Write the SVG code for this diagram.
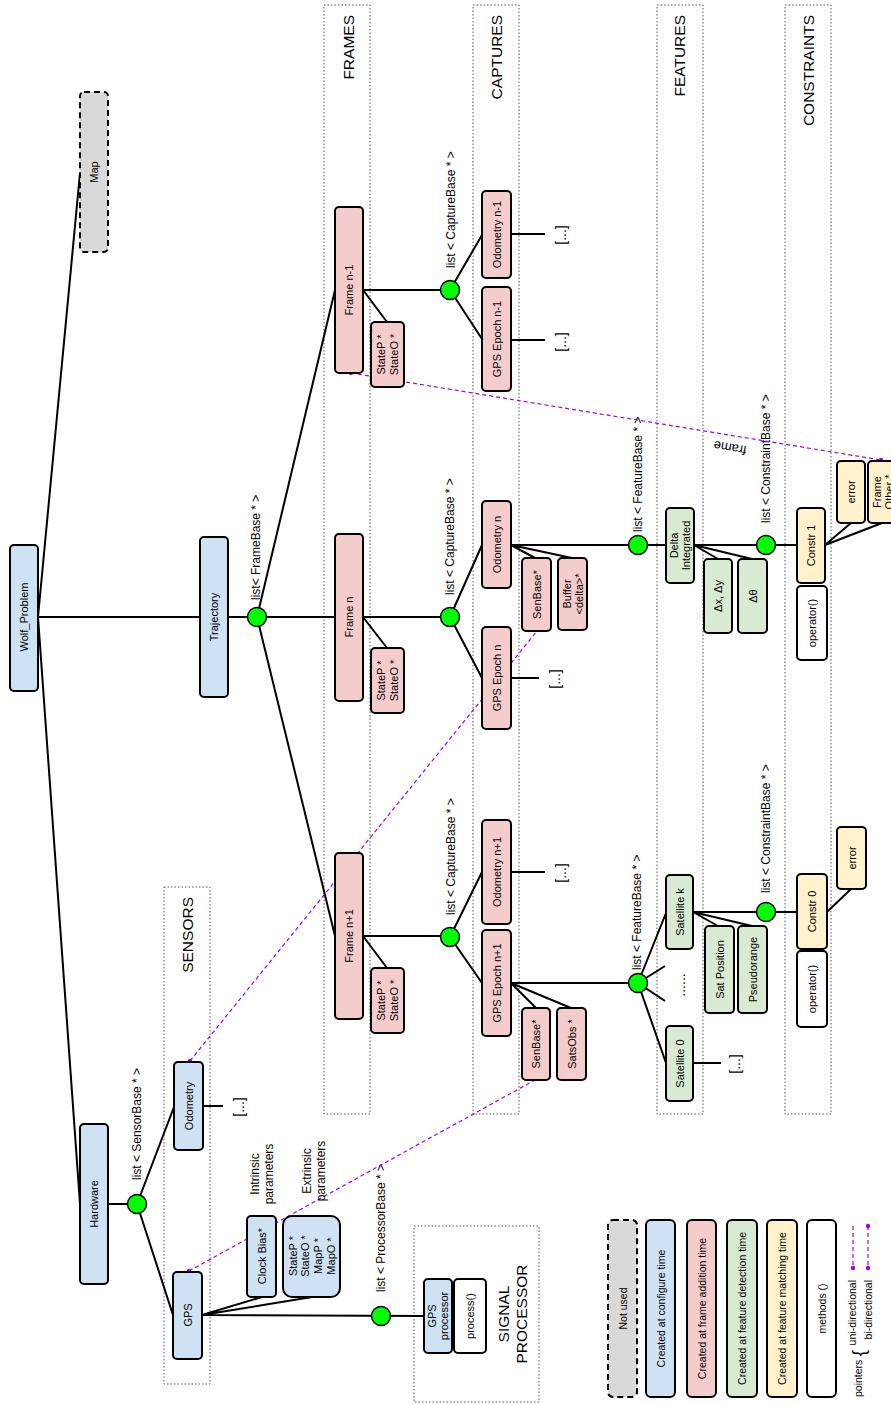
<svg xmlns="http://www.w3.org/2000/svg" width="891" height="1404" viewBox="0 0 891 1404">
<style>
text{font-family:"Liberation Sans",Arial,sans-serif;fill:#000;text-anchor:middle;dominant-baseline:central}
.t{font-size:11px}
.lg{font-size:10.5px}
.lb{font-size:12px;text-anchor:start}
.ti{font-size:15.5px;text-anchor:end}
.dots{font-size:14px}
.n{stroke:#000;stroke-width:2}
.bl{fill:#cfe2f3}.pk{fill:#f4cccc}.gr{fill:#d9ead3}.ye{fill:#fff2cc}.wh{fill:#fff}.gy{fill:#d9d9d9;stroke-dasharray:6 4}
.box{fill:none;stroke:#555;stroke-width:1;stroke-dasharray:1.5 2}
.c{fill:none;stroke:#000;stroke-width:2}
.cir{fill:#00ff00;stroke:#000;stroke-width:1.5}
.p{fill:none;stroke:#9900ff;stroke-width:1.2;stroke-dasharray:4 3}
.pd{fill:#9900ff}
</style>

<g id="sections">
<rect class="box" x="164" y="887" width="46" height="497"/>
<rect class="box" x="324" y="5" width="46" height="1109"/>
<rect class="box" x="473" y="5" width="46" height="1109"/>
<rect class="box" x="657" y="5" width="46" height="1109"/>
<rect class="box" x="785" y="5" width="46" height="1109"/>
<rect class="box" x="414" y="1226" width="125" height="176"/>
<text class="ti" transform="translate(187,897) rotate(-90)">SENSORS</text>
<text class="ti" transform="translate(348,15) rotate(-90)">FRAMES</text>
<text class="ti" transform="translate(496,15) rotate(-90)">CAPTURES</text>
<text class="ti" transform="translate(679,15) rotate(-90)">FEATURES</text>
<text class="ti" transform="translate(808,15) rotate(-90)">CONSTRAINTS</text>
<text style="font-size:15.5px" transform="translate(512,1314) rotate(-90)"><tspan x="0" y="-9">SIGNAL</tspan><tspan x="0" y="9">PROCESSOR</tspan></text>
</g>

<g id="connectors">
<path class="c" d="M38 617H200M38 617L80 173M38 617L80 1204M228 617H335M257 617L335 290M257 617L335 936"/>
<path class="c" d="M363 290H450M363 290L387 322M450 290L482 235M450 290L482 339M511 340H545M511 234H545"/>
<path class="c" d="M363 617H450M363 617L387 648M450 617L482 545M450 617L482 678M511 545H666M511 545L535 558M511 545L572 558M511 678H539"/>
<path class="c" d="M694 545H797M694 545L718 559M694 545L752 559M825 545L851 523M825 545L882 523"/>
<path class="c" d="M363 936H450M363 936L387 968M450 937L482 872M450 937L482 983M511 872H545M511 983H638M511 983L536 1008M511 983L571 1008"/>
<path class="c" d="M638 983L666 913M638 983L666 1063M638 983L665 966M638 983L665 1001M693 1063H721M693 912H797M693 912L718 926M693 912L752 926M827 912L851 889"/>
<path class="c" d="M108 1204H137M137 1204L174 1107M137 1204L173 1315M202 1106H223M202 1315L424 1316M202 1315L262 1297M202 1315L312 1297"/>
<circle class="cir" cx="257" cy="617" r="9.5"/>
<circle class="cir" cx="137" cy="1204" r="9.5"/>
<circle class="cir" cx="381" cy="1316" r="9.5"/>
<circle class="cir" cx="450" cy="290" r="9.5"/>
<circle class="cir" cx="450" cy="617" r="9.5"/>
<circle class="cir" cx="450" cy="937" r="9.5"/>
<circle class="cir" cx="638" cy="545" r="9.5"/>
<circle class="cir" cx="638" cy="983" r="9.5"/>
<circle class="cir" cx="766" cy="545" r="9.5"/>
<circle class="cir" cx="766" cy="912" r="9.5"/>
<text class="lb" transform="translate(256,600) rotate(-90)">list&lt; FrameBase * &gt;</text>
<text class="lb" transform="translate(137,1180) rotate(-90)">list &lt; SensorBase * &gt;</text>
<text class="lb" transform="translate(381,1292) rotate(-90)">list &lt; ProcessorBase * &gt;</text>
<text class="lb" transform="translate(451,268) rotate(-90)">list &lt; CaptureBase * &gt;</text>
<text class="lb" transform="translate(450,595) rotate(-90)">list &lt; CaptureBase * &gt;</text>
<text class="lb" transform="translate(451,915) rotate(-90)">list &lt; CaptureBase * &gt;</text>
<text class="lb" transform="translate(638,532) rotate(-90)">list &lt; FeatureBase * &gt;</text>
<text class="lb" transform="translate(637,970) rotate(-90)">list &lt; FeatureBase * &gt;</text>
<text class="lb" transform="translate(766,523) rotate(-90)">list &lt; ConstraintBase * &gt;</text>
<text class="lb" transform="translate(766,893) rotate(-90)">list &lt; ConstraintBase * &gt;</text>
<text class="dots" transform="translate(561,342) rotate(-90)">[...]</text>
<text class="dots" transform="translate(561,235) rotate(-90)">[...]</text>
<text class="dots" transform="translate(555,679) rotate(-90)">[...]</text>
<text class="dots" transform="translate(561,873) rotate(-90)">[...]</text>
<text class="dots" transform="translate(239,1107) rotate(-90)">[...]</text>
<text class="dots" transform="translate(735,1064) rotate(-90)">[...]</text>
<text class="dots" transform="translate(680,985) rotate(-90)">......</text>
<path class="p" d="M189 1271L535 1080M190 1061L537 631M351 373L881 460"/>
<circle class="pd" cx="189" cy="1271" r="2.2"/>
<circle class="pd" cx="190" cy="1061" r="2.2"/>
<circle class="pd" cx="351" cy="373" r="2.2"/>
<circle class="pd" cx="881" cy="460" r="2.2"/>
<text style="font-size:13px" transform="translate(730,448) rotate(189.3)">frame</text>
</g>

<g id="map"><rect class="n gy" x="80" y="92" width="28" height="160" rx="4"/><text class="t" transform="translate(94,172) rotate(-90)">Map</text></g>
<g id="wolf_problem"><rect class="n bl" x="10" y="545" width="28" height="146" rx="4"/><text class="t" transform="translate(24,617) rotate(-90)">Wolf_Problem</text></g>
<g id="trajectory"><rect class="n bl" x="200" y="537" width="28" height="160" rx="4"/><text class="t" transform="translate(214,617) rotate(-90)">Trajectory</text></g>
<g id="hardware"><rect class="n bl" x="80" y="1124" width="28" height="160" rx="4"/><text class="t" transform="translate(94,1204) rotate(-90)">Hardware</text></g>
<g id="sensor_odometry"><rect class="n bl" x="174" y="1062" width="29" height="88" rx="4"/><text class="t" transform="translate(188.5,1106) rotate(-90)">Odometry</text></g>
<g id="sensor_gps"><rect class="n bl" x="173" y="1272" width="29" height="87" rx="4"/><text class="t" transform="translate(187.5,1315) rotate(-90)">GPS</text></g>
<g id="clock_bias"><rect class="n bl" x="247" y="1216" width="29" height="81" rx="4"/><text class="t" transform="translate(261.5,1256) rotate(-90)">Clock Bias*</text></g>
<g id="extrinsic"><rect class="n bl" x="283" y="1216" width="57" height="81" rx="9"/><text class="t" transform="translate(311.5,1256) rotate(-90)"><tspan x="0" y="-19">StateP *</tspan><tspan x="0" y="-6.3">StateO *</tspan><tspan x="0" y="6.3">MapP *</tspan><tspan x="0" y="19">MapO *</tspan></text></g>
<g id="param_labels"><text style="font-size:12px" transform="translate(262,1174) rotate(-90)"><tspan x="0" y="-7">Intrinsic</tspan><tspan x="0" y="7">parameters</tspan></text><text style="font-size:12px" transform="translate(313.5,1171) rotate(-90)"><tspan x="0" y="-7">Extrinsic</tspan><tspan x="0" y="7">parameters</tspan></text></g>
<g id="gps_processor"><rect class="n bl" x="424" y="1279" width="28" height="74" rx="4"/><text class="t" transform="translate(438,1316) rotate(-90)"><tspan x="0" y="-6">GPS</tspan><tspan x="0" y="6">processor</tspan></text></g>
<g id="process"><rect class="n wh" x="454" y="1279" width="32" height="74" rx="4"/><text class="t" transform="translate(470,1316) rotate(-90)">process()</text></g>

<g id="frame_nm1"><rect class="n pk" x="335" y="207" width="28" height="166" rx="4"/><text class="t" transform="translate(349,290) rotate(-90)">Frame n-1</text></g>
<g id="state_nm1"><rect class="n pk" x="371" y="322" width="33" height="65" rx="4"/><text class="t" transform="translate(387.5,354.5) rotate(-90)"><tspan x="0" y="-6.5">StateP *</tspan><tspan x="0" y="6.5">StateO *</tspan></text></g>
<g id="gps_epoch_nm1"><rect class="n pk" x="482" y="287" width="29" height="104" rx="4"/><text class="t" transform="translate(496.5,339) rotate(-90)">GPS Epoch n-1</text></g>
<g id="odometry_nm1"><rect class="n pk" x="482" y="191" width="29" height="87" rx="4"/><text class="t" transform="translate(496.5,234.5) rotate(-90)">Odometry n-1</text></g>

<g id="frame_n"><rect class="n pk" x="335" y="534" width="28" height="167" rx="4"/><text class="t" transform="translate(349,617) rotate(-90)">Frame n</text></g>
<g id="state_n"><rect class="n pk" x="371" y="648" width="33" height="65" rx="4"/><text class="t" transform="translate(387.5,680.5) rotate(-90)"><tspan x="0" y="-6.5">StateP *</tspan><tspan x="0" y="6.5">StateO *</tspan></text></g>
<g id="odometry_n"><rect class="n pk" x="482" y="501" width="29" height="87" rx="4"/><text class="t" transform="translate(496.5,544.5) rotate(-90)">Odometry n</text></g>
<g id="gps_epoch_n"><rect class="n pk" x="482" y="627" width="29" height="102" rx="4"/><text class="t" transform="translate(496.5,678) rotate(-90)">GPS Epoch n</text></g>
<g id="senbase_n"><rect class="n pk" x="522" y="558" width="29" height="73" rx="4"/><text class="t" transform="translate(536.5,594.5) rotate(-90)">SenBase*</text></g>
<g id="buffer_n"><rect class="n pk" x="558" y="558" width="29" height="72" rx="4"/><text class="t" transform="translate(572.5,594) rotate(-90)"><tspan x="0" y="-6">Buffer</tspan><tspan x="0" y="6">&lt;delta&gt;*</tspan></text></g>
<g id="delta_integrated"><rect class="n gr" x="666" y="508" width="28" height="75" rx="4"/><text class="t" transform="translate(680,545.5) rotate(-90)"><tspan x="0" y="-6">Delta</tspan><tspan x="0" y="6">Integrated</tspan></text></g>
<g id="dxdy"><rect class="n gr" x="704" y="559" width="28" height="74" rx="4"/><text class="t" transform="translate(718,596) rotate(-90)">Δx, Δy</text></g>
<g id="dtheta"><rect class="n gr" x="738" y="559" width="29" height="74" rx="4"/><text class="t" transform="translate(752.5,596) rotate(-90)">Δθ</text></g>
<g id="constr1"><rect class="n ye" x="797" y="508" width="28" height="75" rx="4"/><text class="t" transform="translate(811,545.5) rotate(-90)">Constr 1</text></g>
<g id="operator1"><rect class="n wh" x="797" y="586" width="30" height="74" rx="4"/><text class="t" transform="translate(812,623) rotate(-90)">operator()</text></g>
<g id="error1"><rect class="n ye" x="837" y="461" width="28" height="62" rx="4"/><text class="t" transform="translate(851,492) rotate(-90)">error</text></g>
<g id="frame_other"><rect class="n ye" x="868" y="461" width="30" height="62" rx="4"/><text class="t" transform="translate(883,492) rotate(-90)"><tspan x="0" y="-6">Frame</tspan><tspan x="0" y="6">Other *</tspan></text></g>

<g id="frame_np1"><rect class="n pk" x="335" y="853" width="28" height="166" rx="4"/><text class="t" transform="translate(349,936) rotate(-90)">Frame n+1</text></g>
<g id="state_np1"><rect class="n pk" x="371" y="968" width="33" height="65" rx="4"/><text class="t" transform="translate(387.5,1000.5) rotate(-90)"><tspan x="0" y="-6.5">StateP *</tspan><tspan x="0" y="6.5">StateO *</tspan></text></g>
<g id="odometry_np1"><rect class="n pk" x="482" y="820" width="29" height="104" rx="4"/><text class="t" transform="translate(496.5,872) rotate(-90)">Odometry n+1</text></g>
<g id="gps_epoch_np1"><rect class="n pk" x="482" y="930" width="29" height="106" rx="4"/><text class="t" transform="translate(496.5,983) rotate(-90)">GPS Epoch n+1</text></g>
<g id="senbase_np1"><rect class="n pk" x="522" y="1008" width="28" height="72" rx="4"/><text class="t" transform="translate(536,1044) rotate(-90)">SenBase*</text></g>
<g id="satsobs"><rect class="n pk" x="557" y="1008" width="29" height="72" rx="4"/><text class="t" transform="translate(571.5,1044) rotate(-90)">SatsObs *</text></g>
<g id="satellite_k"><rect class="n gr" x="666" y="875" width="27" height="74" rx="4"/><text class="t" transform="translate(679.5,912) rotate(-90)">Satellite k</text></g>
<g id="satellite_0"><rect class="n gr" x="666" y="1026" width="27" height="75" rx="4"/><text class="t" transform="translate(679.5,1063.5) rotate(-90)">Satellite 0</text></g>
<g id="sat_position"><rect class="n gr" x="705" y="926" width="29" height="87" rx="4"/><text class="t" transform="translate(719.5,969.5) rotate(-90)">Sat Position</text></g>
<g id="pseudorange"><rect class="n gr" x="738" y="926" width="29" height="87" rx="4"/><text class="t" transform="translate(752.5,969.5) rotate(-90)">Pseudorange</text></g>
<g id="constr0"><rect class="n ye" x="797" y="874" width="30" height="75" rx="4"/><text class="t" transform="translate(812,911.5) rotate(-90)">Constr 0</text></g>
<g id="operator0"><rect class="n wh" x="797" y="951" width="30" height="76" rx="4"/><text class="t" transform="translate(812,989) rotate(-90)">operator()</text></g>
<g id="error0"><rect class="n ye" x="837" y="827" width="29" height="62" rx="4"/><text class="t" transform="translate(851.5,858) rotate(-90)">error</text></g>

<g id="legend">
<rect class="n gy" x="608" y="1220" width="29" height="177" rx="5"/><text class="lg" transform="translate(622.5,1308.5) rotate(-90)">Not used</text>
<rect class="n bl" x="646" y="1220" width="29" height="177" rx="5"/><text class="lg" transform="translate(660.5,1308.5) rotate(-90)">Created at configure time</text>
<rect class="n pk" x="687" y="1220" width="29" height="177" rx="5"/><text class="lg" transform="translate(701.5,1308.5) rotate(-90)">Created at frame addition time</text>
<rect class="n gr" x="727" y="1220" width="30" height="177" rx="5"/><text class="lg" transform="translate(742,1308.5) rotate(-90)">Created at feature detection time</text>
<rect class="n ye" x="767" y="1220" width="30" height="177" rx="5"/><text class="lg" transform="translate(782,1308.5) rotate(-90)">Created at feature matching time</text>
<rect class="n wh" x="807" y="1220" width="29" height="177" rx="5"/><text class="lg" transform="translate(821.5,1308.5) rotate(-90)">methods ()</text>
<path class="p" d="M853 1226V1268M868 1226V1268"/>
<circle class="pd" cx="853" cy="1268" r="2.2"/>
<circle class="pd" cx="868" cy="1226" r="2.2"/>
<circle class="pd" cx="868" cy="1268" r="2.2"/>
<text class="lg" style="text-anchor:end" transform="translate(852,1280) rotate(-90)">uni-directional</text>
<text class="lg" style="text-anchor:end" transform="translate(867.5,1280) rotate(-90)">bi-directional</text>
<text class="lg" style="text-anchor:start" transform="translate(858,1397) rotate(-90)">pointers</text>
<text style="font-size:19px" transform="translate(858,1353) rotate(-90)">{</text>
</g>
</svg>
